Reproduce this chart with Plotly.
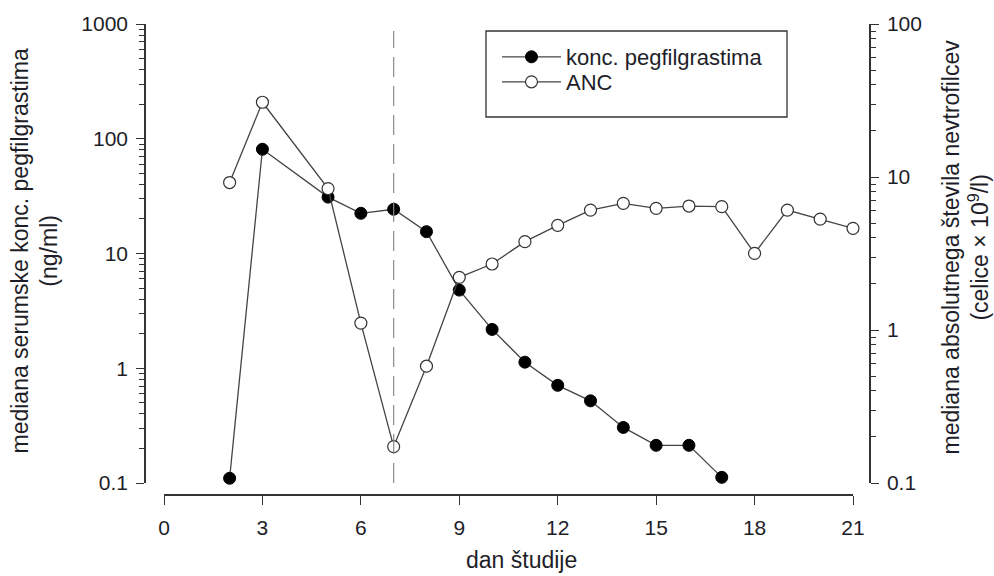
import plotly.graph_objects as go

# ---- data ----
days_conc = [2, 3, 5, 6, 7, 8, 9, 10, 11, 12, 13, 14, 15, 16, 17]
conc_values = [0.11, 81, 31, 22.4, 24.3, 15.5, 4.8, 2.18, 1.13, 0.71, 0.52, 0.305, 0.213, 0.213, 0.112]

days_anc = [2, 3, 5, 6, 7, 8, 9, 10, 11, 12, 13, 14, 15, 16, 17, 18, 19, 20, 21]
anc_values = [9.2, 30.8, 8.4, 1.11, 0.173, 0.58, 2.21, 2.7, 3.78, 4.83, 6.08, 6.73, 6.24, 6.46, 6.4, 3.17, 6.08, 5.3, 4.62]

x_ticks = [0, 3, 6, 9, 12, 15, 18, 21]
left_ticks = [0.1, 1, 10, 100, 1000]
left_ticktext = ["0.1", "1", "10", "100", "1000"]
right_ticks = [0.1, 1, 10, 100]
right_ticktext = ["0.1", "1", "10", "100"]
ref_day = 7

W, H = 994, 576
FONT = "Liberation Sans, Arial, sans-serif"
TXT = "#1e1e28"
AX = "#333333"

def px(v):
    return v / W

def py(v):
    return 1 - v / H

def minor_vals(lo_exp, hi_exp):
    return [k * 10 ** e for e in range(lo_exp, hi_exp) for k in range(2, 10)]

fig = go.Figure()

fig.add_trace(go.Scatter(
    x=days_conc, y=conc_values, name="konc. pegfilgrastima", legend="legend",
    mode="lines+markers", yaxis="y", cliponaxis=False,
    line=dict(color="#444444", width=1.3),
    marker=dict(symbol="circle", size=12, color="black", line=dict(color="black", width=1)),
))
fig.add_trace(go.Scatter(
    x=days_anc, y=anc_values, name="ANC", legend="legend2",
    mode="lines+markers", yaxis="y2", cliponaxis=False,
    line=dict(color="#444444", width=1.3),
    marker=dict(symbol="circle", size=12, color="white", line=dict(color="#333333", width=1.2)),
))

# reference dashed line
fig.add_shape(type="line", xref="x", yref="paper", x0=ref_day, x1=ref_day,
              y0=py(483), y1=py(31), line=dict(color="#8a8a8a", width=1.2, dash="20px,9px"))

# legend box
fig.add_shape(type="rect", xref="paper", yref="paper", x0=px(486), x1=px(787),
              y0=py(117), y1=py(31), line=dict(color="#333333", width=1.3))

legend_common = dict(xanchor="left", yanchor="top", bgcolor="rgba(0,0,0,0)", borderwidth=0,
                     font=dict(family=FONT, size=22, color=TXT), itemwidth=59)

fig.update_layout(
    width=W, height=H,
    margin=dict(l=0, r=0, t=0, b=0),
    paper_bgcolor="white", plot_bgcolor="white",
    font=dict(family=FONT, size=21, color=TXT),
    showlegend=True,
    legend=dict(x=px(497), y=py(36), **legend_common),
    legend2=dict(x=px(497), y=py(61), **legend_common),
    xaxis=dict(
        domain=[px(164), px(853)], range=[0, 21], anchor="free", position=py(495),
        tickmode="array", tickvals=x_ticks, ticks="outside", ticklen=9, tickwidth=1.3,
        tickcolor=AX, showline=True, linecolor=AX, linewidth=1.5, showgrid=False,
        zeroline=False, ticklabelstandoff=5, automargin=False,
    ),
    yaxis=dict(
        type="log", domain=[py(483), py(24)], range=[-1, 3], anchor="free", position=px(145),
        tickmode="array", tickvals=left_ticks, ticktext=left_ticktext,
        ticks="outside", ticklen=8, tickwidth=1.3, tickcolor=AX,
        minor=dict(tickmode="array", tickvals=minor_vals(-1, 3), ticks="outside", ticklen=5,
                   tickwidth=1.1, tickcolor=AX, showgrid=False),
        showline=True, linecolor=AX, linewidth=1.5, showgrid=False, zeroline=False,
        ticklabelstandoff=4, automargin=False,
    ),
    yaxis2=dict(
        type="log", domain=[py(483), py(24)], range=[-1, 2], anchor="free", position=px(870),
        overlaying="y", side="right",
        tickmode="array", tickvals=right_ticks, ticktext=right_ticktext,
        ticks="outside", ticklen=8, tickwidth=1.3, tickcolor=AX,
        minor=dict(tickmode="array", tickvals=minor_vals(-1, 2), ticks="outside", ticklen=5,
                   tickwidth=1.1, tickcolor=AX, showgrid=False),
        showline=True, linecolor=AX, linewidth=1.5, showgrid=False, zeroline=False,
        ticklabelstandoff=4, automargin=False,
    ),
    annotations=[
        dict(text="mediana serumske konc. pegfilgrastima<br>(ng/ml)", xref="paper", yref="paper",
             x=px(34.5), y=py(251), textangle=-90, showarrow=False,
             xanchor="center", yanchor="middle", font=dict(family=FONT, size=23, color=TXT)),
        dict(text="mediana absolutnega števila nevtrofilcev<br>(celice × 10<sup>9</sup>/l)",
             xref="paper", yref="paper", x=px(965), y=py(247.5), textangle=-90, showarrow=False,
             xanchor="center", yanchor="middle", font=dict(family=FONT, size=23, color=TXT)),
        dict(text="dan študije", xref="paper", yref="paper", x=px(521), y=py(575),
             showarrow=False, xanchor="center", yanchor="bottom",
             font=dict(family=FONT, size=23, color=TXT)),
    ],
)

fig.write_html("out.html", config={"displayModeBar": False},
               post_script="document.body.style.margin='0';document.body.style.overflow='hidden';")
